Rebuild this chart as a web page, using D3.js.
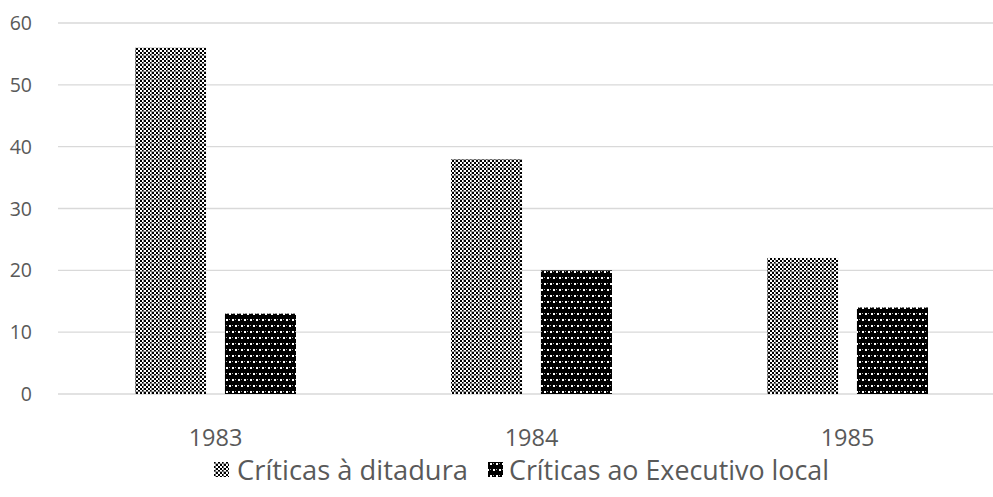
<!DOCTYPE html>
<html><head><meta charset="utf-8">
<script src="https://cdn.jsdelivr.net/npm/d3@7/dist/d3.min.js"></script>
<style>body{margin:0;background:#fff}svg{display:block}text{font-family:"Open Sans","Noto Sans",sans-serif;fill:#595959}</style>
</head><body><svg id="c" width="993" height="497"></svg>
<script>
const categories = ["1983","1984","1985"];
const seriesNames = ["Críticas à ditadura","Críticas ao Executivo local"];
const ditadura = [56,38,22];
const executivo = [13,20,14];
const yTicks = [0,10,20,30,40,50,60];

const svg = d3.select("#c");
const W = 993, H = 497;
const defs = svg.append("defs");
// checker pattern
const p1 = defs.append("pattern").attr("id","p1").attr("width",8).attr("height",8).attr("patternUnits","userSpaceOnUse");
p1.append("rect").attr("width",8).attr("height",8).attr("fill","#fff");
[[0,0],[4,0],[2,2],[6,2],[0,4],[4,4],[2,6],[6,6]].forEach(([x,y])=>p1.append("rect").attr("x",x).attr("y",y).attr("width",2).attr("height",2).attr("fill","#000"));
p1.append("rect").attr("x",0).attr("y",7).attr("width",8).attr("height",1).attr("fill","#888").attr("opacity",0.7);
p1.append("rect").attr("x",7).attr("y",0).attr("width",1).attr("height",8).attr("fill","#888").attr("opacity",0.7);
// dots pattern
const p2 = defs.append("pattern").attr("id","p2").attr("width",12).attr("height",12).attr("patternUnits","userSpaceOnUse");
p2.append("rect").attr("width",12).attr("height",12).attr("fill","#000");
[[1,1],[7,1],[4,7],[10,7]].forEach(([x,y])=>p2.append("rect").attr("x",x).attr("y",y).attr("width",2).attr("height",2).attr("fill","#fff"));
[[4,1],[10,1],[1,7],[7,7]].forEach(([x,y])=>p2.append("rect").attr("x",x).attr("y",y).attr("width",1).attr("height",1).attr("fill","#aaa"));
const fills = ["url(#p1)","url(#p2)"];

const y = d3.scaleLinear().domain([0,60]).range([394,23]);
const x = d3.scaleBand().domain(categories).range([57.5,1005.5]).paddingInner(0).paddingOuter(0);
const inner = d3.scaleBand().domain([0,1]).range([77.5, x.bandwidth()-77.5]).paddingInner(0.21);

// gridlines
svg.append("g").selectAll("line").data(yTicks).join("line")
  .attr("x1",58).attr("x2",W).attr("y1",d=>y(d)).attr("y2",d=>y(d))
  .attr("stroke","#d9d9d9").attr("stroke-width",1.3);

// y labels
svg.append("g").selectAll("text").data(yTicks).join("text")
  .attr("x",32).attr("y",d=>y(d)).attr("dy","0.36em").attr("text-anchor","end")
  .attr("font-size",19.5).text(d=>d);

const series = [ditadura, executivo];
series.forEach((vals,si)=>{
  svg.append("g").selectAll("rect").data(vals).join("rect")
    .attr("x",(d,i)=>x(categories[i])+inner(si))
    .attr("width",inner.bandwidth())
    .attr("y",d=>y(d)).attr("height",d=>y(0)-y(d))
    .attr("fill",fills[si]);
});

// x labels
svg.append("g").selectAll("text").data(categories).join("text")
  .attr("x",d=>x(d)+x.bandwidth()/2).attr("y",446).attr("text-anchor","middle")
  .attr("font-size",23.5).text(d=>d);

// legend
const leg = [{sx:214, tx:237},{sx:488, tx:509}];
seriesNames.forEach((n,i)=>{
  svg.append("rect").attr("x",leg[i].sx).attr("y",462).attr("width",15).attr("height",15).attr("fill",fills[i]);
  svg.append("text").attr("x",leg[i].tx).attr("y",480).attr("font-size",27).attr("textLength", i===0?231:320).attr("lengthAdjust","spacingAndGlyphs").text(n);
});
</script></body></html>
